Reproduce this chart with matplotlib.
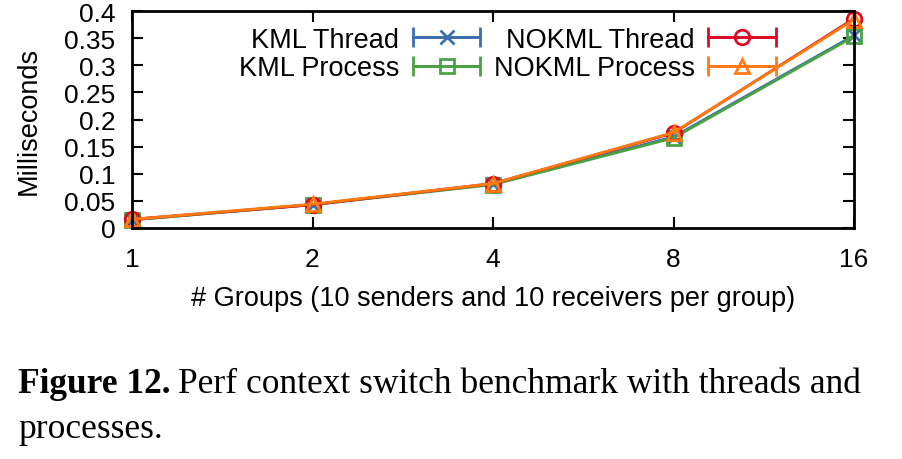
import matplotlib
matplotlib.use("Agg")
import matplotlib.pyplot as plt
import numpy as np
from matplotlib.ticker import FixedLocator, FixedFormatter, NullLocator
from matplotlib.container import ErrorbarContainer
from matplotlib.legend_handler import HandlerErrorbar

groups = [1, 2, 4, 8, 16]
xtick_labels = ["1", "2", "4", "8", "16"]
kml_thread = [0.015, 0.043, 0.081, 0.168, 0.355]
kml_process = [0.015, 0.043, 0.080, 0.166, 0.353]
nokml_thread = [0.016, 0.043, 0.082, 0.175, 0.386]
nokml_process = [0.016, 0.044, 0.082, 0.176, 0.384]
yticks = [0, 0.05, 0.1, 0.15, 0.2, 0.25, 0.3, 0.35, 0.4]
ytick_labels = ["0", "0.05", "0.1", "0.15", "0.2", "0.25", "0.3", "0.35", "0.4"]

plt.rcParams['font.family'] = ['Liberation Sans', 'DejaVu Sans']

fig = plt.figure(figsize=(9.02, 4.6), dpi=100)
ax = fig.add_axes([132/902, 1-229/460, (854-132)/902, (229-12)/460])

series = [
    ("KML Thread", kml_thread, "#3a6fb0", "x", 10),
    ("KML Process", kml_process, "#4ba243", "s", 10),
    ("NOKML Thread", nokml_thread, "#dd0a24", "o", 10.5),
    ("NOKML Process", nokml_process, "#ff7a0f", "^", 10.5),
]
handles = []
for label, vals, color, m, ms in series:
    style = dict(color=color, marker=m, markersize=ms, markerfacecolor='none',
                 markeredgewidth=2, linewidth=2.0)
    ax.plot(groups, vals, clip_on=False, **style)
    # proxy for legend (horizontal error-bar style key)
    h = ax.errorbar([np.nan], [np.nan], xerr=[1.0], capsize=7, elinewidth=2,
                    capthick=2, label=label, **style)
    handles.append(h)

ax.set_xscale('log', base=2)
ax.set_xlim(1, 16)
ax.set_ylim(0, 0.4)
ax.xaxis.set_major_locator(FixedLocator(groups))
ax.xaxis.set_major_formatter(FixedFormatter(xtick_labels))
ax.xaxis.set_minor_locator(NullLocator())
ax.yaxis.set_major_locator(FixedLocator(yticks))
ax.yaxis.set_major_formatter(FixedFormatter(ytick_labels))
ax.tick_params(axis='both', direction='in', length=8, width=1.5,
               top=True, right=True, labelsize=19)
ax.tick_params(axis='x', pad=14)
ax.tick_params(axis='y', pad=12)
for s in ax.spines.values():
    s.set_linewidth(2)

ax.set_ylabel("Milliseconds", fontsize=19.5, labelpad=16)
ax.set_xlabel("# Groups (10 senders and 10 receivers per group)", fontsize=19.5, labelpad=10)

leg = ax.legend(handles=handles, ncol=2, loc='upper center',
                bbox_to_anchor=(0.52, 0.99), frameon=False, fontsize=19.5,
                markerfirst=False, handlelength=2.5, columnspacing=0.5,
                handletextpad=0.5, labelspacing=0.1, borderaxespad=0.1,
                handler_map={ErrorbarContainer: HandlerErrorbar(xerr_size=1.25)})
for t in leg.get_texts():
    t.set_ha('right')

serif = ['Liberation Serif', 'DejaVu Serif']
t1 = fig.text(18/902, 1-393/460, "Figure 12.", fontsize=25.5,
              family=serif, weight='bold', va='baseline')
fig.canvas.draw()
bb = t1.get_window_extent()
x2 = (bb.x1 + 7) / fig.bbox.width
fig.text(x2, 1-393/460, "Perf context switch benchmark with threads and",
         fontsize=25.5, family=serif, va='baseline')
fig.text(18/902, 1-438/460, "processes.", fontsize=25.5,
         family=serif, va='baseline')

fig.savefig("out.png", dpi=100)
